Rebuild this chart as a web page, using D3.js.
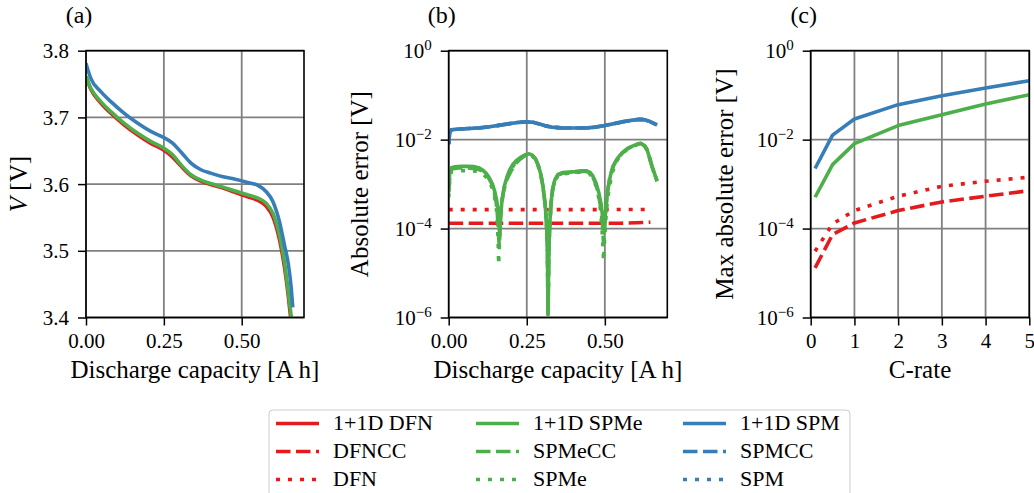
<!DOCTYPE html>
<html><head><meta charset="utf-8">
<script src="https://cdn.jsdelivr.net/npm/d3@7"></script>
<style>
html,body{margin:0;padding:0;background:#fff;}
svg{display:block;font-family:"Liberation Serif","Times New Roman",serif;}
text{font-family:"Liberation Serif","Times New Roman",serif !important;fill:#000;}
</style></head><body>
<svg id="chart" width="1034" height="493"></svg>
<script>
// ---------------- DATA ----------------
// Panel (a): voltage vs discharge capacity
const capA_DFN1D = [0, 0.015, 0.047, 0.079, 0.122, 0.165, 0.208, 0.249, 0.278, 0.305, 0.337, 0.369, 0.400, 0.440, 0.476, 0.519, 0.552, 0.578, 0.600, 0.621, 0.637, 0.650, 0.658];
const vA_DFN1D   = [3.761, 3.7425, 3.722, 3.7065, 3.689, 3.674, 3.661, 3.651, 3.6405, 3.627, 3.6125, 3.6045, 3.5995, 3.594, 3.588, 3.581, 3.5755, 3.567, 3.551, 3.517, 3.476, 3.43, 3.396];
const capA_SPMe1D = [0, 0.015, 0.047, 0.079, 0.122, 0.165, 0.208, 0.249, 0.278, 0.305, 0.337, 0.369, 0.400, 0.440, 0.476, 0.519, 0.552, 0.578, 0.600, 0.621, 0.637, 0.650, 0.660];
const vA_SPMe1D   = [3.7615, 3.744, 3.724, 3.709, 3.6915, 3.6765, 3.664, 3.654, 3.644, 3.629, 3.614, 3.606, 3.601, 3.5955, 3.590, 3.584, 3.579, 3.5715, 3.5565, 3.524, 3.484, 3.436, 3.398];
const capA_SPM1D = [0, 0.015, 0.047, 0.079, 0.122, 0.165, 0.208, 0.249, 0.278, 0.305, 0.337, 0.369, 0.400, 0.440, 0.476, 0.519, 0.552, 0.578, 0.600, 0.621, 0.637, 0.650, 0.659, 0.664];
const vA_SPM1D   = [3.781, 3.759, 3.739, 3.724, 3.7065, 3.6915, 3.679, 3.670, 3.6615, 3.648, 3.6315, 3.6215, 3.6165, 3.611, 3.6075, 3.6025, 3.598, 3.589, 3.574, 3.544, 3.509, 3.479, 3.444, 3.415];

// Panel (b): absolute error vs discharge capacity
const capB_SPM = [0.000, 0.003, 0.008, 0.02, 0.05, 0.08, 0.10, 0.13, 0.16, 0.19, 0.22, 0.25, 0.27, 0.29, 0.31, 0.33, 0.36, 0.40, 0.44, 0.47, 0.50, 0.53, 0.56, 0.59, 0.61, 0.625, 0.64, 0.655, 0.667];
const errB_SPM = [7.94e-3, 1.41e-2, 1.66e-2, 1.70e-2, 1.76e-2, 1.80e-2, 1.84e-2, 1.95e-2, 2.09e-2, 2.26e-2, 2.43e-2, 2.51e-2, 2.45e-2, 2.26e-2, 2.04e-2, 1.91e-2, 1.84e-2, 1.82e-2, 1.83e-2, 1.91e-2, 2.07e-2, 2.29e-2, 2.54e-2, 2.75e-2, 2.85e-2, 2.82e-2, 2.63e-2, 2.34e-2, 2.14e-2];

const capB_SPMe1D = [0.000, 0.003, 0.008, 0.02, 0.04, 0.06, 0.08, 0.095, 0.108, 0.12, 0.13, 0.14, 0.148, 0.154, 0.158, 0.161, 0.163, 0.165, 0.168, 0.172, 0.178, 0.186, 0.195, 0.205, 0.217, 0.23, 0.245, 0.258, 0.268, 0.278, 0.287, 0.295, 0.302, 0.308, 0.313, 0.316, 0.318, 0.321, 0.324, 0.328, 0.333, 0.34, 0.35, 0.365, 0.385, 0.405, 0.425, 0.44, 0.452, 0.462, 0.472, 0.481, 0.488, 0.493, 0.497, 0.501, 0.505, 0.51, 0.518, 0.528, 0.54, 0.555, 0.572, 0.59, 0.605, 0.615, 0.627, 0.635, 0.643, 0.652, 0.66, 0.667];
const errB_SPMe1D = [6.92e-4, 1.78e-3, 2.34e-3, 2.45e-3, 2.51e-3, 2.51e-3, 2.48e-3, 2.34e-3, 2.09e-3, 1.74e-3, 1.38e-3, 1.0e-3, 6.61e-4, 4.17e-4, 2.51e-4, 1.41e-4, 7.4e-5, 1.41e-4, 2.82e-4, 5.0e-4, 8.9e-4, 1.41e-3, 2.09e-3, 2.75e-3, 3.39e-3, 3.98e-3, 4.57e-3, 4.79e-3, 4.47e-3, 3.72e-3, 2.63e-3, 1.66e-3, 8.9e-4, 3.98e-4, 1.41e-4, 3.98e-5, 1.17e-6, 3.98e-5, 1.41e-4, 3.98e-4, 7.94e-4, 1.26e-3, 1.66e-3, 1.82e-3, 1.86e-3, 1.91e-3, 2.0e-3, 2.0e-3, 1.86e-3, 1.51e-3, 1.05e-3, 6.31e-4, 3.55e-4, 1.78e-4, 7.94e-5, 1.78e-4, 3.98e-4, 7.94e-4, 1.58e-3, 2.63e-3, 3.8e-3, 5.01e-3, 6.31e-3, 7.24e-3, 7.94e-3, 8.32e-3, 7.41e-3, 6.03e-3, 3.98e-3, 2.4e-3, 1.66e-3, 1.2e-3];

const capB_SPMeCC = [0.000, 0.004, 0.01, 0.03, 0.06, 0.09, 0.11, 0.125, 0.137, 0.146, 0.152, 0.156, 0.159, 0.162, 0.165, 0.169, 0.176, 0.186, 0.2, 0.215, 0.23, 0.245, 0.258, 0.268, 0.278, 0.287, 0.295, 0.302, 0.308, 0.313, 0.316, 0.318, 0.321, 0.324, 0.328, 0.333, 0.34, 0.35, 0.365, 0.385, 0.405, 0.425, 0.44, 0.452, 0.462, 0.472, 0.480, 0.487, 0.492, 0.496, 0.500, 0.504, 0.509, 0.516, 0.526, 0.54, 0.555, 0.572, 0.59, 0.605, 0.615, 0.627, 0.635, 0.643, 0.652, 0.66, 0.667];
const errB_SPMeCC = [6.5e-4, 1.7e-3, 2.2e-3, 2.3e-3, 2.3e-3, 2.2e-3, 1.95e-3, 1.5e-3, 1.05e-3, 6.6e-4, 3.9e-4, 2.0e-4, 8.0e-5, 4.0e-5, 1.3e-4, 3.4e-4, 7.0e-4, 1.25e-3, 2.0e-3, 2.9e-3, 3.7e-3, 4.4e-3, 4.65e-3, 4.35e-3, 3.65e-3, 2.6e-3, 1.62e-3, 8.7e-4, 3.9e-4, 1.38e-4, 3.9e-5, 1.15e-6, 3.9e-5, 1.38e-4, 3.9e-4, 7.7e-4, 1.22e-3, 1.6e-3, 1.75e-3, 1.8e-3, 1.85e-3, 1.93e-3, 1.93e-3, 1.78e-3, 1.42e-3, 9.6e-4, 5.6e-4, 2.9e-4, 1.3e-4, 4.5e-5, 1.2e-4, 3.2e-4, 7.0e-4, 1.45e-3, 2.5e-3, 3.7e-3, 4.9e-3, 6.2e-3, 7.2e-3, 7.9e-3, 8.2e-3, 7.3e-3, 5.9e-3, 3.9e-3, 2.35e-3, 1.62e-3, 1.17e-3];

const capB_SPMe = [0.000, 0.004, 0.01, 0.03, 0.06, 0.09, 0.11, 0.125, 0.137, 0.146, 0.152, 0.156, 0.158, 0.160, 0.163, 0.166, 0.171, 0.178, 0.188, 0.2, 0.215, 0.23, 0.245, 0.258, 0.268, 0.278, 0.287, 0.295, 0.302, 0.308, 0.313, 0.316, 0.318, 0.321, 0.324, 0.328, 0.333, 0.34, 0.35, 0.365, 0.385, 0.405, 0.425, 0.44, 0.452, 0.462, 0.472, 0.480, 0.486, 0.490, 0.493, 0.496, 0.499, 0.503, 0.508, 0.515, 0.525, 0.54, 0.555, 0.572, 0.59, 0.605, 0.618, 0.627, 0.635, 0.643, 0.652, 0.66, 0.667];
const errB_SPMe = [5.0e-4, 1.6e-3, 1.95e-3, 2.0e-3, 2.0e-3, 1.95e-3, 1.7e-3, 1.3e-3, 8.9e-4, 5.6e-4, 3.2e-4, 1.4e-4, 6e-5, 1.55e-5, 6e-5, 2.0e-4, 4.5e-4, 8.5e-4, 1.4e-3, 2.2e-3, 3.1e-3, 3.8e-3, 4.4e-3, 4.6e-3, 4.3e-3, 3.6e-3, 2.5e-3, 1.6e-3, 8.5e-4, 3.8e-4, 1.35e-4, 3.8e-5, 1.1e-6, 3.8e-5, 1.35e-4, 3.8e-4, 7.6e-4, 1.2e-3, 1.55e-3, 1.7e-3, 1.75e-3, 1.8e-3, 1.88e-3, 1.88e-3, 1.7e-3, 1.35e-3, 9e-4, 5.2e-4, 2.6e-4, 1.2e-4, 5.5e-5, 1.86e-5, 5.5e-5, 1.6e-4, 4.2e-4, 9e-4, 1.9e-3, 3.5e-3, 4.8e-3, 6.1e-3, 7.1e-3, 7.8e-3, 8.2e-3, 7.3e-3, 5.9e-3, 3.9e-3, 2.35e-3, 1.6e-3, 1.15e-3];

const capB_DFN = [0.0, 0.1, 0.2, 0.3, 0.4, 0.5, 0.6, 0.646];
const errB_DFN = [2.67e-4, 2.67e-4, 2.67e-4, 2.67e-4, 2.67e-4, 2.67e-4, 2.68e-4, 2.70e-4];
const capB_DFNCC = [0.0, 0.1, 0.2, 0.3, 0.4, 0.5, 0.55, 0.6, 0.646];
const errB_DFNCC = [1.32e-4, 1.32e-4, 1.32e-4, 1.32e-4, 1.32e-4, 1.32e-4, 1.32e-4, 1.35e-4, 1.39e-4];

// Panel (c): max absolute error vs C-rate
const cRate = [0.1, 0.5, 1, 2, 3, 4, 5];
const maxErr_SPM1D  = [2.24e-3, 1.26e-2, 2.91e-2, 6.12e-2, 9.75e-2, 0.145, 0.212];
const maxErr_SPMe1D = [5.06e-4, 2.74e-3, 8.13e-3, 2.07e-2, 3.65e-2, 6.32e-2, 0.1026];
const maxErr_DFN    = [3.09e-5, 1.27e-4, 2.54e-4, 5.33e-4, 8.93e-4, 1.16e-3, 1.43e-3];
const maxErr_DFNCC  = [1.31e-5, 7.33e-5, 1.34e-4, 2.54e-4, 3.98e-4, 5.33e-4, 7.14e-4];

// Ticks
const xTicksCap = [0, 0.25, 0.5];
const xTickLabelsCap = ["0.00", "0.25", "0.50"];
const yTicksV = [3.4, 3.5, 3.6, 3.7, 3.8];
const yTicksLog = [1e-6, 1e-4, 1e-2, 1];
const yTickExpLog = ["\u22126", "\u22124", "\u22122", "0"];
const xTicksC = [0, 1, 2, 3, 4, 5];

// Legend
const legendLabels = [
  ["1+1D DFN", "DFNCC", "DFN"],
  ["1+1D SPMe", "SPMeCC", "SPMe"],
  ["1+1D SPM", "SPMCC", "SPM"]
];

// ---------------- STYLE ----------------
const RED = "#e41a1c", GREEN = "#4daf4a", BLUE = "#377eb8";
const LW = 3.6;
const DASH = {solid: null, dashed: "14.5,5.5", dotted: "4,8"};
const FS_TICK = 21;
const FS_LABEL = 25;
const FS_TITLE = 24;
const FS_LEG = 22;
const FONT = "Liberation Serif";
const TOP = 50.7, BOTTOM = 317.5;
const svg = d3.select("#chart");

function panel(id, left, right, xDomain, yScaleType, yDomain, smooth) {
  const x = d3.scaleLinear().domain(xDomain).range([left, right]);
  const y = (yScaleType === "log" ? d3.scaleLog() : d3.scaleLinear()).domain(yDomain).range([BOTTOM, TOP]);
  const g = svg.append("g");
  svg.append("clipPath").attr("id", "clip" + id).append("rect")
    .attr("x", left).attr("y", TOP).attr("width", right - left).attr("height", BOTTOM - TOP);
  return {x, y, g, left, right, id, smooth};
}

function grid(p, xt, yt) {
  const gg = p.g.append("g");
  gg.selectAll(".gx").data(xt).join("line")
    .attr("x1", d => p.x(d)).attr("x2", d => p.x(d)).attr("y1", TOP).attr("y2", BOTTOM)
    .attr("stroke", "#808080").attr("stroke-width", 1.8);
  gg.selectAll(".gy").data(yt).join("line")
    .attr("y1", d => p.y(d)).attr("y2", d => p.y(d)).attr("x1", p.left).attr("x2", p.right)
    .attr("stroke", "#808080").attr("stroke-width", 1.8);
}

function series(p, xs, ys, color, style) {
  const data = xs.map((v, i) => [v, ys[i]]);
  const line = d3.line().x(d => p.x(d[0])).y(d => p.y(d[1]));
  if (p.smooth) line.curve(d3.curveMonotoneX);
  p.g.append("path").datum(data)
    .attr("clip-path", `url(#clip${p.id})`)
    .attr("d", line).attr("fill", "none").attr("stroke", color).attr("stroke-width", LW)
    .attr("stroke-linejoin", "round").attr("stroke-linecap", "butt")
    .attr("stroke-dasharray", DASH[style]);
}

function txt(sel, size) {
  return sel.attr("font-size", size).attr("font-family", FONT).style("font-family", FONT).attr("fill", "#000");
}

function axes(p, xt, xfmt, yt, ylog) {
  const ax = p.g.append("g").attr("transform", `translate(0,${BOTTOM})`)
    .call(d3.axisBottom(p.x).tickValues(xt).tickSize(8).tickFormat((d, i) => xfmt[i]));
  ax.attr("font-family", FONT);
  ax.select(".domain").remove();
  ax.selectAll("line").attr("stroke", "#000").attr("stroke-width", 1.5);
  txt(ax.selectAll("text").attr("y", 30.8).attr("dy", null), FS_TICK);

  const ay = p.g.append("g").attr("transform", `translate(${p.left},0)`)
    .call(d3.axisLeft(p.y).tickValues(yt).tickSize(8).tickPadding(9)
      .tickFormat(ylog ? (() => "") : d3.format(".1f")));
  ay.attr("font-family", FONT);
  ay.select(".domain").remove();
  ay.selectAll("line").attr("stroke", "#000").attr("stroke-width", 1.5);
  txt(ay.selectAll("text").attr("dy", 7), FS_TICK);
  if (ylog) {
    ay.selectAll("text").each(function(d, i) {
      const t = d3.select(this);
      t.append("tspan").text("10");
      t.append("tspan").attr("dy", -8.5).attr("font-size", 15).text(yTickExpLog[i]);
    });
  }
  // spines
  p.g.append("rect").attr("x", p.left).attr("y", TOP).attr("width", p.right - p.left)
    .attr("height", BOTTOM - TOP).attr("fill", "none").attr("stroke", "#000").attr("stroke-width", 1.6);
}

function labels(p, title, xlab, ylabX, ylabParts) {
  txt(svg.append("text").attr("x", p.left - 7).attr("y", 23).attr("text-anchor", "middle"), FS_TITLE).text(title);
  txt(svg.append("text").attr("x", (p.left + p.right) / 2).attr("y", 378).attr("text-anchor", "middle"), FS_LABEL).text(xlab);
  const yl = txt(svg.append("text").attr("transform", `translate(${ylabX},${(TOP + BOTTOM) / 2}) rotate(-90)`)
    .attr("text-anchor", "middle"), FS_LABEL);
  ylabParts.forEach(part => {
    const ts = yl.append("tspan").text(part[0]);
    if (part[1]) ts.attr("font-style", "italic");
  });
}

// ---------------- PANEL A ----------------
const pA = panel("A", 86, 304, [0, 0.7], "lin", [3.4, 3.8], true);
grid(pA, xTicksCap, yTicksV);
series(pA, capA_DFN1D, vA_DFN1D, RED, "solid");
series(pA, capA_SPMe1D, vA_SPMe1D, GREEN, "solid");
series(pA, capA_SPM1D, vA_SPM1D, BLUE, "solid");
axes(pA, xTicksCap, xTickLabelsCap, yTicksV, false);
labels(pA, "(a)", "Discharge capacity [A\u2009h]", 27, [["V", true], [" [V]", false]]);

// ---------------- PANEL B ----------------
const pB = panel("B", 448.7, 667.3, [0, 0.7], "log", [1e-6, 1], false);
grid(pB, xTicksCap, yTicksLog);
series(pB, capB_DFN, errB_DFN, RED, "dotted");
series(pB, capB_DFNCC, errB_DFNCC, RED, "dashed");
series(pB, capB_SPM, errB_SPM, BLUE, "dotted");
series(pB, capB_SPM, errB_SPM, BLUE, "dashed");
series(pB, capB_SPM, errB_SPM, BLUE, "solid");
series(pB, capB_SPMe, errB_SPMe, GREEN, "dotted");
series(pB, capB_SPMeCC, errB_SPMeCC, GREEN, "dashed");
series(pB, capB_SPMe1D, errB_SPMe1D, GREEN, "solid");
axes(pB, xTicksCap, xTickLabelsCap, yTicksLog, true);
labels(pB, "(b)", "Discharge capacity [A\u2009h]", 368, [["Absolute error [V]", false]]);

// ---------------- PANEL C ----------------
const pC = panel("C", 810.7, 1029.3, [0, 5], "log", [1e-6, 1], false);
grid(pC, xTicksC, yTicksLog);
series(pC, cRate, maxErr_DFN, RED, "dotted");
series(pC, cRate, maxErr_DFNCC, RED, "dashed");
series(pC, cRate, maxErr_SPMe1D, GREEN, "solid");
series(pC, cRate, maxErr_SPM1D, BLUE, "solid");
axes(pC, xTicksC, xTicksC.map(String), yTicksLog, true);
labels(pC, "(c)", "C-rate", 733, [["Max absolute error [V]", false]]);

// ---------------- LEGEND ----------------
const leg = svg.append("g");
leg.append("rect").attr("x", 269).attr("y", 410).attr("width", 581).attr("height", 110)
  .attr("rx", 4).attr("fill", "#fff").attr("fill-opacity", 0.8).attr("stroke", "#cccccc").attr("stroke-width", 1);
const legColors = [RED, GREEN, BLUE];
const legStyles = ["solid", "dashed", "dotted"];
const colX = [276, 476, 683];
const rowY = [430, 458, 486];
legendLabels.forEach((col, ci) => {
  col.forEach((lab, ri) => {
    leg.append("line").attr("x1", colX[ci]).attr("x2", colX[ci] + 43)
      .attr("y1", rowY[ri] - 6.5).attr("y2", rowY[ri] - 6.5)
      .attr("stroke", legColors[ci]).attr("stroke-width", LW)
      .attr("stroke-dasharray", DASH[legStyles[ri]]);
    txt(leg.append("text").attr("x", colX[ci] + 57).attr("y", rowY[ri]), FS_LEG).text(lab);
  });
});
</script>
</body></html>
